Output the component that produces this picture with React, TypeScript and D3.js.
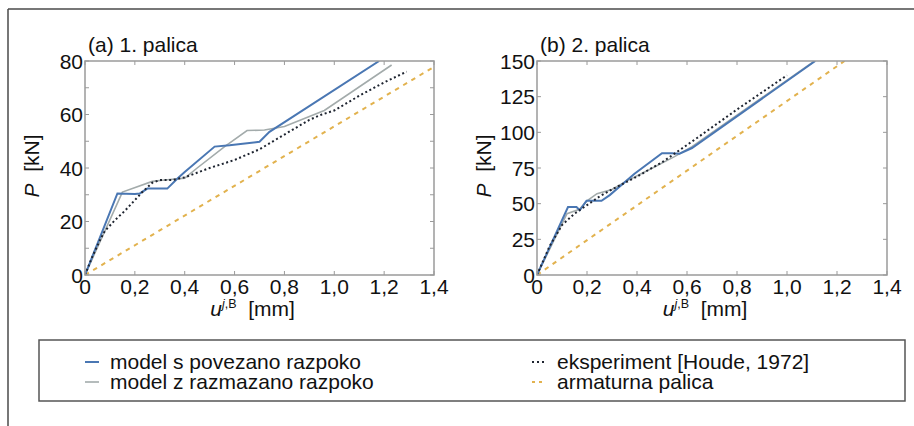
import React from "react";
import * as d3 from "d3";

// ---------- data ----------
const xTicks = [0, 0.2, 0.4, 0.6, 0.8, 1.0, 1.2, 1.4];
const yTicksA = [0, 20, 40, 60, 80];
const yMinorA = [10, 30, 50, 70];
const yTicksB = [0, 25, 50, 75, 100, 125, 150];

// panel (a) 1. palica
const blueA_u = [0, 0.13, 0.2, 0.22, 0.25, 0.33, 0.37, 0.4, 0.52, 0.58, 0.7, 0.74, 1.18];
const blueA_P = [0, 30.5, 30.3, 30.5, 32.3, 32.3, 36, 38.5, 48, 48.5, 49.8, 53.5, 80];
const grayA_u = [0, 0.15, 0.27, 0.32, 0.4, 0.45, 0.56, 0.65, 0.72, 0.8, 0.96, 1.23];
const grayA_P = [0, 31, 35, 35.5, 36.2, 40, 48, 54, 54.2, 55.5, 61.5, 78.5];
const expA_u = [0, 0.03, 0.06, 0.08, 0.12, 0.16, 0.2, 0.23, 0.27, 0.3, 0.35, 0.4, 0.5, 0.6, 0.7, 0.8, 0.9, 0.95, 1.0, 1.1, 1.2, 1.29];
const expA_P = [0, 7, 13, 16.5, 20.5, 24, 28, 31, 34.5, 35.5, 35.5, 36.5, 40, 43, 47, 52.5, 58, 60, 61.5, 67, 72, 76];
const barA_u = [0, 1.4];
const barA_P = [0, 77.8];

// panel (b) 2. palica
const blueB_u = [0, 0.124, 0.158, 0.171, 0.198, 0.258, 0.291, 0.39, 0.5, 0.54, 0.57, 0.62, 1.113];
const blueB_P = [0, 47.6, 47.6, 45.4, 52, 52, 56, 71, 85.3, 85.3, 85, 89, 150];
const grayB_u = [0, 0.12, 0.17, 0.2, 0.24, 0.3, 0.36, 0.45, 0.55, 0.62, 1.11];
const grayB_P = [0, 43, 46, 52, 57, 60, 66, 74, 83, 90, 150];
const expB_u = [0, 0.05, 0.1, 0.15, 0.2, 0.25, 0.3, 0.4, 0.5, 0.64, 0.8, 1.0];
const expB_P = [0, 20, 35, 43, 49, 55, 60, 69, 79, 96, 116, 140];
const barB_u = [0, 1.23];
const barB_P = [0, 150];

const titles = ["(a) 1. palica", "(b) 2. palica"];
const legendLabels = [
  "model s povezano razpoko",
  "model z razmazano razpoko",
  "eksperiment [Houde, 1972]",
  "armaturna palica",
];

// ---------- styles ----------
const FONT = "'Liberation Sans', Arial, sans-serif";
const C_BLUE = "#4a77b3";
const C_GRAY = "#a3abab";
const C_EXP = "#1e2430";
const C_BAR = "#e2b24e";
const C_AXIS = "#9a9a9a";

type Panel = {
  x0: number;
  x1: number;
  yMax: number;
  yTicks: number[];
  yMinor: number[];
  title: string;
  series: { u: number[]; P: number[]; kind: string }[];
};

const zip = (u: number[], P: number[]) => u.map((v, i) => [v, P[i]] as [number, number]);

const fmtX = (v: number) => (v === 0 ? "0" : d3.format(".1f")(v).replace(".", ","));

function PanelChart({ p }: { p: Panel }) {
  const top = 61;
  const bottom = 275;
  const x = d3.scaleLinear().domain([0, 1.4]).range([p.x0, p.x1]);
  const y = d3.scaleLinear().domain([0, p.yMax]).range([bottom, top]);
  const line = d3
    .line<[number, number]>()
    .x((d) => x(d[0]))
    .y((d) => y(d[1]));
  const tl = 4;
  const styleFor = (kind: string) => {
    if (kind === "blue") return { stroke: C_BLUE, strokeWidth: 2 };
    if (kind === "gray") return { stroke: C_GRAY, strokeWidth: 1.6 };
    if (kind === "exp") return { stroke: C_EXP, strokeWidth: 2, strokeDasharray: "2 2.6" };
    return { stroke: C_BAR, strokeWidth: 2, strokeDasharray: "4.5 5" };
  };
  const cx = (p.x0 + p.x1) / 2;
  const allY = [...p.yTicks, ...p.yMinor];
  return (
    <g>
      <defs>
        <clipPath id={"clip" + p.x0}>
          <rect x={p.x0} y={top} width={p.x1 - p.x0} height={bottom - top} />
        </clipPath>
      </defs>
      <g clipPath={`url(#clip${p.x0})`}>
        {p.series.map((s, i) => (
          <path key={i} d={line(zip(s.u, s.P)) || ""} fill="none" {...styleFor(s.kind)} />
        ))}
      </g>
      {/* ticks */}
      {xTicks.map((t) => (
        <g key={"xt" + t} stroke={C_AXIS} strokeWidth={1}>
          <line x1={x(t)} x2={x(t)} y1={bottom} y2={bottom - tl} />
          <line x1={x(t)} x2={x(t)} y1={top} y2={top + tl} />
        </g>
      ))}
      {allY.map((t) => (
        <g key={"yt" + t} stroke={C_AXIS} strokeWidth={1}>
          <line x1={p.x0} x2={p.x0 + tl} y1={y(t)} y2={y(t)} />
          <line x1={p.x1} x2={p.x1 - tl} y1={y(t)} y2={y(t)} />
        </g>
      ))}
      <rect x={p.x0} y={top} width={p.x1 - p.x0} height={bottom - top} fill="none" stroke={C_AXIS} strokeWidth={1.5} />
      {/* tick labels */}
      {xTicks.map((t) => (
        <text key={"xl" + t} x={x(t)} y={294} textAnchor="middle" fontSize={21} fontFamily={FONT} fill="#111">
          {fmtX(t)}
        </text>
      ))}
      {p.yTicks.map((t) => (
        <text key={"yl" + t} x={p.x0 - 2} y={y(t)} dy="0.36em" textAnchor="end" fontSize={21} fontFamily={FONT} fill="#111">
          {t}
        </text>
      ))}
      {/* title */}
      <text x={p.x0 + 3} y={52} fontSize={21} fontFamily={FONT} fill="#111">
        {p.title}
      </text>
      {/* x axis title */}
      <text x={cx - 7} y={316} textAnchor="middle" fontSize={21} fontFamily={FONT} fill="#111">
        <tspan fontStyle="italic">u</tspan>
        <tspan fontSize={12.5} dy={-8} fontStyle="italic">j</tspan>
        <tspan fontSize={12.5}>,B</tspan>
        <tspan dy={8}>{"\u00a0\u00a0[mm]"}</tspan>
      </text>
      {/* y axis title */}
      <text
        transform={`translate(${p.x0 - 46},166) rotate(-90)`}
        textAnchor="middle"
        fontSize={21}
        fontFamily={FONT}
        fill="#111"
      >
        <tspan fontStyle="italic">P</tspan>
        <tspan>{"\u00a0\u00a0[kN]"}</tspan>
      </text>
    </g>
  );
}

export default function App() {
  const panels: Panel[] = [
    {
      x0: 85,
      x1: 434,
      yMax: 80,
      yTicks: yTicksA,
      yMinor: yMinorA,
      title: titles[0],
      series: [
        { u: barA_u, P: barA_P, kind: "bar" },
        { u: grayA_u, P: grayA_P, kind: "gray" },
        { u: blueA_u, P: blueA_P, kind: "blue" },
        { u: expA_u, P: expA_P, kind: "exp" },
      ],
    },
    {
      x0: 537,
      x1: 887,
      yMax: 150,
      yTicks: yTicksB,
      yMinor: [],
      title: titles[1],
      series: [
        { u: barB_u, P: barB_P, kind: "bar" },
        { u: grayB_u, P: grayB_P, kind: "gray" },
        { u: blueB_u, P: blueB_P, kind: "blue" },
        { u: expB_u, P: expB_P, kind: "exp" },
      ],
    },
  ];
  const legendItems = [
    { label: legendLabels[0], x: 85, y: 362, stroke: C_BLUE, dash: "none", w: 2 },
    { label: legendLabels[1], x: 85, y: 382, stroke: C_GRAY, dash: "none", w: 1.6 },
    { label: legendLabels[2], x: 532, y: 362, stroke: C_EXP, dash: "2 3", w: 2 },
    { label: legendLabels[3], x: 532, y: 382, stroke: C_BAR, dash: "3 4", w: 2 },
  ];
  return (
    <svg width={914} height={426} style={{ position: "absolute", left: 0, top: 0, background: "#fff" }}>
      <rect x={0} y={0} width={914} height={426} fill="#fff" />
      {/* outer frame */}
      <line x1={8} x2={914} y1={9} y2={9} stroke="#4a4a4a" strokeWidth={1.5} />
      <line x1={8} x2={8} y1={9} y2={426} stroke="#4a4a4a" strokeWidth={1.5} />
      {panels.map((p, i) => (
        <PanelChart key={i} p={p} />
      ))}
      {/* legend */}
      <rect x={39} y={340} width={866} height={61} fill="#fff" stroke="#555" strokeWidth={1.5} />
      {legendItems.map((it, i) => (
        <g key={i}>
          <line
            x1={it.x}
            x2={it.x + 14}
            y1={it.y}
            y2={it.y}
            stroke={it.stroke}
            strokeWidth={it.w}
            strokeDasharray={it.dash}
          />
          <text x={it.x + 25} y={it.y + 6.5} fontSize={21} fontFamily={FONT} fill="#111">
            {it.label}
          </text>
        </g>
      ))}
    </svg>
  );
}
